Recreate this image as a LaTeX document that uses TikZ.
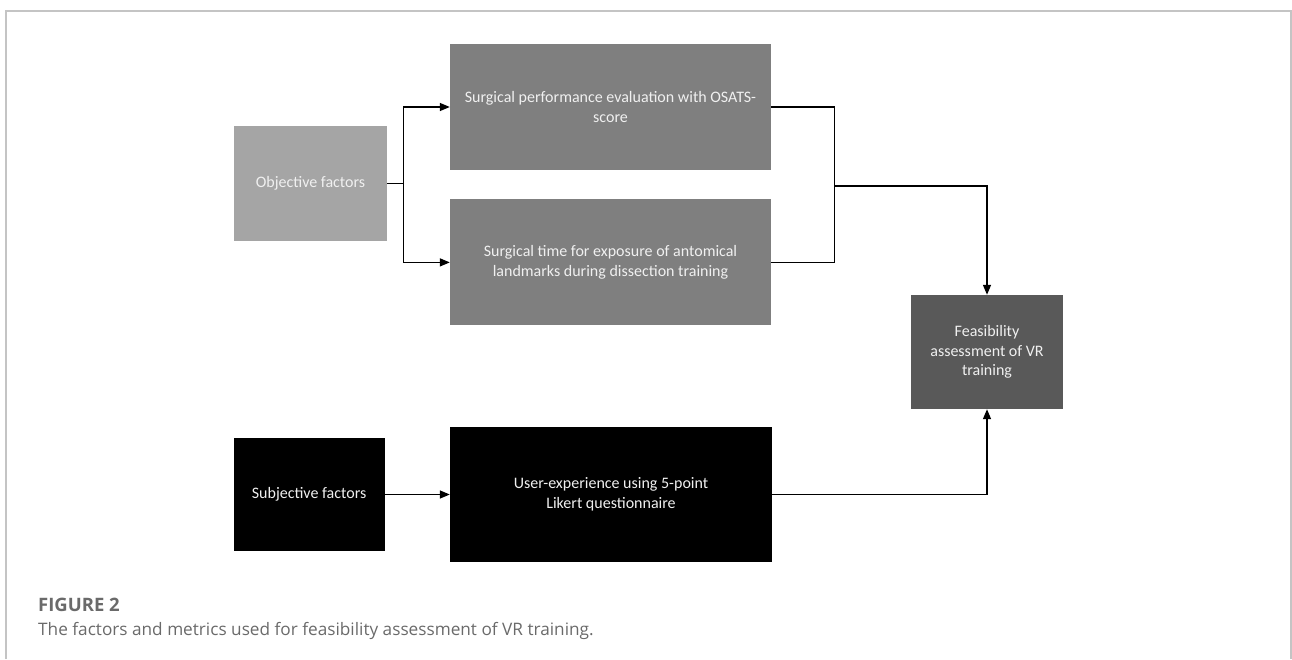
\documentclass[tikz,border=0pt]{standalone}
\usepackage{fontspec}
\setmainfont{Carlito}
\newfontfamily\capfont{Open Sans}
\usepackage{tikz}
\usetikzlibrary{positioning, arrows.meta, calc}

\definecolor{objgray}{HTML}{A5A5A5}
\definecolor{metgray}{HTML}{7F7F7F}
\definecolor{feasgray}{HTML}{595959}
\definecolor{framegray}{HTML}{C4C4C4}
\definecolor{captgray}{HTML}{6A6A6A}
\definecolor{boxtext}{HTML}{F0F0F0}

\begin{document}
\begin{tikzpicture}
        [
            x=1pt, y=1pt,
            box/.style={rectangle, fill=#1, minimum width=153pt, minimum height=115pt,
                        inner sep=0pt, align=center, text=boxtext,
                        font=\fontsize{16}{19.5}\selectfont},
            metric/.style={box=#1, minimum width=321pt, minimum height=126pt},
            link/.style={line width=1.4pt},
            >={Triangle[length=10pt, width=8pt]}
        ]
        \useasboundingbox (0,0) rectangle (1292,659);
        \draw [framegray, line width=1.6pt] (6,0) -- (6,648) -- (1291,648) -- (1291,0);
        % upper branch
        \node (perf) [metric=metgray] at (610.5,552) {Surgical performance evaluation with OSATS-\\score};
        \node (time) [metric=metgray, below=29pt of perf] {Surgical time for exposure of antomical\\landmarks during dissection training};
        \node (obj) [box=objgray] at (310.5,475.5) {Objective factors};
        \node (feas) [box=feasgray, minimum width=152pt, minimum height=114pt] at (987,307)
              {Feasibility\\assessment of VR\\training};
        % lower branch
        \node (user) [metric=black, minimum width=322pt, minimum height=135pt] at (611,164.5)
              {User-experience using 5-point\\Likert questionnaire};
        \node (subj) [box=black, minimum width=151pt, minimum height=113pt, left=65pt of user]
              {Subjective factors};
        \coordinate (split) at ($(obj.east)+(16,0)$);
        \coordinate (bus) at ($(perf.east)+(63,0)$);
        \coordinate (join) at ($(bus)+(0,-79)$);
        \draw [link] (obj.east) -- (split);
        \foreach \b in {perf,time}
            \draw [link, ->] (split) |- (\b.west);
        \draw [link] (perf.east) -- (bus) |- (time.east);
        \draw [link, ->] (join) -| (feas.north);
        \draw [link, ->] (subj.east) -- (subj.east -| user.west);
        \draw [link, ->] (user.east) -| (feas.south);
        % caption
        \node (fig) [anchor=base west, inner sep=0pt, text=feasgray!90!white,
                     font=\capfont\bfseries\fontsize{18.5}{22}\selectfont] at (38,48) {FIGURE 2};
        \node (capt) [anchor=base west, inner sep=0pt, text=captgray,
                      font=\capfont\fontsize{17.2}{20}\selectfont] at (38,24)
              {The factors and metrics used for feasibility assessment of VR training.};
    \end{tikzpicture}
\end{document}
